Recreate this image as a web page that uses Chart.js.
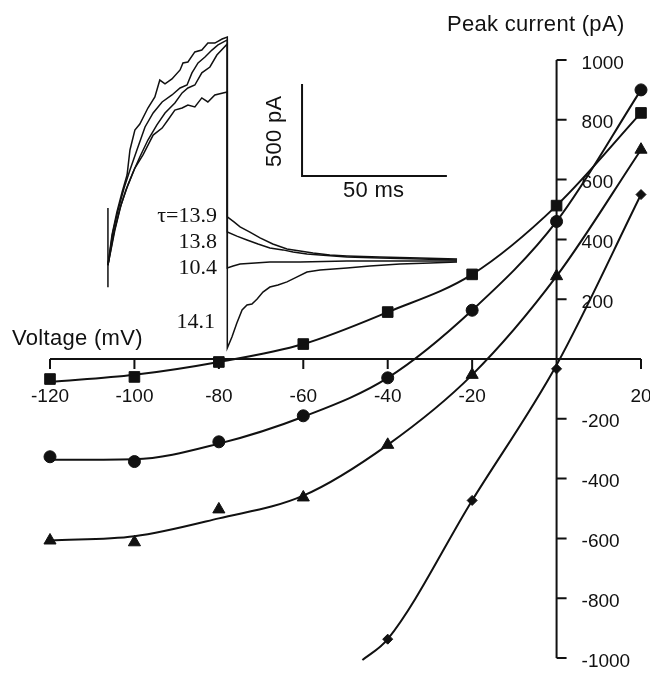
<!DOCTYPE html>
<html>
<head>
<meta charset="utf-8">
<title>Peak current vs voltage</title>
<script src="https://cdn.jsdelivr.net/npm/chart.js@4.4.1/dist/chart.umd.min.js"></script>
<style>
  html, body { margin: 0; padding: 0; background: #fff; }
  #wrap { position: relative; width: 650px; height: 676px; }
</style>
</head>
<body>
<div id="wrap"><canvas id="ivChart"></canvas></div>
<script>
// --- I-V data (mV, pA) ---
const voltage = [-120, -100, -80, -60, -40, -20, 0, 20];
const squareCur = [-67, -60, -10, 50, 157, 283, 513, 823];
const circleCur = [-327, -343, -277, -190, -63, 163, 460, 900];
const triangleCur = [-607, -613, -503, -463, -287, -53, 277, 700];
const diamondVolt = [-40, -20, 0, 20];
const diamondCur = [-937, -473, -33, 550];

// fitted curves
const squareFit = [-77, -53, -10, 50, 157, 283, 513, 823];
const circleFit = [-337, -335, -283, -193, -63, 163, 460, 900];
const triangleFit = [-607, -593, -533, -457, -287, -53, 277, 700];
const diamondFitVolt = [-46, -40, -20, 0, 20];
const diamondFit = [-1007, -937, -473, -20, 550];

// axis ticks
const xTickValues = [-120, -100, -80, -60, -40, -20, 0, 20];
const yTickValues = [1000, 800, 600, 400, 200, 0, -200, -400, -600, -800, -1000];

// --- Inset current traces (ms, pA) ---
const actTimeA = [0, 1.4, 3.1, 4.9, 6.6, 7.6, 9.3, 11.0, 13.8, 16.2, 17.9, 19.7, 22.1, 24.9, 25.9, 27.6, 30.0, 32.4, 34.5, 36.9, 39.4, 41.2];
const actCurA = [0, 164, 289, 398, 490, 626, 734, 767, 854, 914, 1006, 985, 1012, 1061, 1099, 1104, 1159, 1169, 1207, 1207, 1229, 1240];
const actTimeB = [0, 1.7, 3.5, 5.6, 7.6, 10.0, 12.8, 15.6, 18.7, 22.1, 24.9, 27.3, 29.0, 31.1, 33.5, 35.9, 38.0, 41.2];
const actCurB = [0, 180, 300, 420, 517, 626, 751, 827, 887, 925, 963, 979, 1045, 1099, 1131, 1169, 1197, 1224];
const actTimeC = [0, 2.1, 4.2, 6.2, 8.7, 11.0, 13.8, 16.9, 19.7, 23.1, 25.6, 27.6, 30.0, 32.4, 35.2, 37.6, 41.2];
const actCurC = [0, 180, 311, 409, 506, 588, 680, 762, 827, 881, 936, 963, 979, 1045, 1077, 1142, 1202];
const actTimeD = [0, 2.4, 4.5, 6.9, 9.3, 12.1, 15.6, 18.7, 20.7, 23.1, 25.6, 27.6, 30.0, 32.4, 34.5, 36.9, 39.7, 41.2];
const actCurD = [0, 191, 327, 435, 528, 599, 707, 745, 789, 843, 854, 870, 860, 909, 887, 925, 936, 941];

const tailTime139 = [41.2, 43.5, 45.6, 49.0, 52.5, 56.9, 61.8, 66.3, 70.8, 76.6, 82.5, 93.9, 107.7, 120.5];
const tailCur139 = [262, 235, 208, 180, 148, 115, 88, 77, 66, 55, 50, 44, 39, 33];
const tailTime138 = [41.2, 44.5, 48.0, 51.8, 55.9, 60.4, 63.9, 68.7, 73.2, 82.5, 93.9, 107.7, 120.5];
const tailCur138 = [180, 158, 137, 115, 93, 83, 72, 61, 55, 44, 39, 33, 28];
const tailTime104 = [41.2, 43.2, 45.6, 50.8, 55.9, 66.3, 82.5, 100.8, 120.5];
const tailCur104 = [-15, -5, 6, 12, 17, 17, 22, 22, 22];
const tailTime141 = [41.2, 42.8, 44.5, 46.3, 48.0, 49.7, 51.5, 53.5, 55.9, 58.7, 61.8, 65.3, 68.7, 73.2, 82.5, 90.4, 100.8, 111.2, 120.5];
const tailCur141 = [-450, -390, -314, -243, -216, -211, -184, -146, -119, -108, -91, -64, -37, -26, -15, -5, 6, 12, 17];

const stimTime = [0, 0];
const stimCur = [310, -120];

// scale bar: 50 ms x 500 pA
const barTime = [67, 67, 117];
const barCur = [985, 485, 485];

// --- Styles ---
const ink = "#111";
const sansFont = '"Liberation Sans", Arial, sans-serif';
const serifFont = '"Liberation Serif", "Times New Roman", serif';

const toPoints = (xs, ys) => xs.map((x, i) => ({ x, y: ys[i] }));

function markerSet(xs, ys, style, radius) {
  return {
    data: toPoints(xs, ys),
    showLine: false,
    pointStyle: style,
    pointRadius: radius,
    pointBackgroundColor: ink,
    pointBorderColor: ink,
    pointBorderWidth: 1,
    clip: false,
  };
}

function fitSet(xs, ys) {
  return {
    data: toPoints(xs, ys),
    showLine: true,
    cubicInterpolationMode: "monotone",
    borderColor: ink,
    borderWidth: 2,
    pointRadius: 0,
    clip: false,
  };
}

function traceSet(xs, ys, width) {
  return {
    data: toPoints(xs, ys),
    xAxisID: "xi",
    yAxisID: "yi",
    showLine: true,
    tension: 0,
    borderColor: ink,
    borderWidth: width,
    pointRadius: 0,
    clip: false,
  };
}

/**
 * Draws the crossing axes (at V = 0 and I = 0) with their ticks
 */
const crossAxes = {
  id: "crossAxes",
  beforeDatasetsDraw(chart) {
    const { ctx } = chart;
    const { x, y } = chart.scales;
    const x0 = x.getPixelForValue(0);
    const y0 = y.getPixelForValue(0);

    ctx.save();
    ctx.strokeStyle = ink;
    ctx.lineWidth = 2;
    ctx.beginPath();
    ctx.moveTo(x.getPixelForValue(xTickValues[0]), y0);
    ctx.lineTo(x.getPixelForValue(xTickValues[xTickValues.length - 1]), y0);
    ctx.moveTo(x0, y.getPixelForValue(yTickValues[0]));
    ctx.lineTo(x0, y.getPixelForValue(yTickValues[yTickValues.length - 1]));
    xTickValues.forEach((v) => {
      if (v === 0) return;
      const px = x.getPixelForValue(v);
      ctx.moveTo(px, y0);
      ctx.lineTo(px, y0 + 10);
    });
    yTickValues.forEach((v) => {
      if (v === 0) return;
      const py = y.getPixelForValue(v);
      ctx.moveTo(x0, py);
      ctx.lineTo(x0 + 10, py);
    });
    ctx.stroke();

    ctx.fillStyle = ink;
    ctx.font = `19px ${sansFont}`;
    ctx.textBaseline = "alphabetic";
    ctx.textAlign = "center";
    xTickValues.forEach((v) => {
      if (v === 0) return;
      ctx.fillText(String(v), x.getPixelForValue(v), y0 + 43);
    });
    ctx.textAlign = "left";
    yTickValues.forEach((v) => {
      if (v === 0) return;
      ctx.fillText(String(v), x0 + 25, y.getPixelForValue(v) + 8.5);
    });
    ctx.restore();
  },
};

/**
 * Axis titles, scale bar labels and tau values of the inset
 */
const figureText = {
  id: "figureText",
  afterDatasetsDraw(chart) {
    const { ctx } = chart;
    ctx.save();
    ctx.fillStyle = ink;
    ctx.textBaseline = "alphabetic";
    ctx.textAlign = "left";
    ctx.font = `22px ${sansFont}`;
    ctx.letterSpacing = "0.3px";
    ctx.fillText("Peak current (pA)", 447, 31);
    ctx.fillText("Voltage (mV)", 12, 345);
    ctx.fillText("50 ms", 343, 197);

    ctx.save();
    ctx.translate(281, 167);
    ctx.rotate(-Math.PI / 2);
    ctx.fillText("500 pA", 0, 0);
    ctx.restore();

    ctx.letterSpacing = "0px";
    ctx.font = `22px ${serifFont}`;
    ctx.textAlign = "right";
    ctx.fillText("\u03c4=13.9", 217, 222);
    ctx.fillText("13.8", 217, 248);
    ctx.fillText("10.4", 217, 274);
    ctx.fillText("14.1", 215, 328);
    ctx.restore();
  },
};

const ctx = document.getElementById("ivChart").getContext("2d");

new Chart(ctx, {
  type: "scatter",
  data: {
    datasets: [
      fitSet(voltage, squareFit),
      fitSet(voltage, circleFit),
      fitSet(voltage, triangleFit),
      fitSet(diamondFitVolt, diamondFit),
      markerSet(voltage, squareCur, "rect", 7.5),
      markerSet(voltage, circleCur, "circle", 6),
      markerSet(voltage, triangleCur, "triangle", 7),
      markerSet(diamondVolt, diamondCur, "rectRot", 5),
      traceSet([...actTimeA, ...tailTime139], [...actCurA, ...tailCur139], 1.5),
      traceSet([...actTimeB, ...tailTime138], [...actCurB, ...tailCur138], 1.5),
      traceSet([...actTimeC, ...tailTime104], [...actCurC, ...tailCur104], 1.5),
      traceSet([...actTimeD, ...tailTime141], [...actCurD, ...tailCur141], 1.5),
      traceSet(stimTime, stimCur, 1.5),
      traceSet(barTime, barCur, 2),
    ],
  },
  options: {
    responsive: true,
    maintainAspectRatio: false,
    animation: false,
    events: [],
    layout: { padding: { left: 50, right: 9, top: 60, bottom: 18 } },
    plugins: {
      legend: { display: false },
      tooltip: { enabled: false },
    },
    scales: {
      x: { type: "linear", min: -120, max: 20, display: false },
      y: { type: "linear", min: -1000, max: 1000, display: false },
      xi: { type: "linear", axis: "x", min: -20, max: 184, display: false },
      yi: { type: "linear", axis: "y", min: -2135, max: 1115, display: false },
    },
  },
  plugins: [crossAxes, figureText],
});
</script>
</body>
</html>
